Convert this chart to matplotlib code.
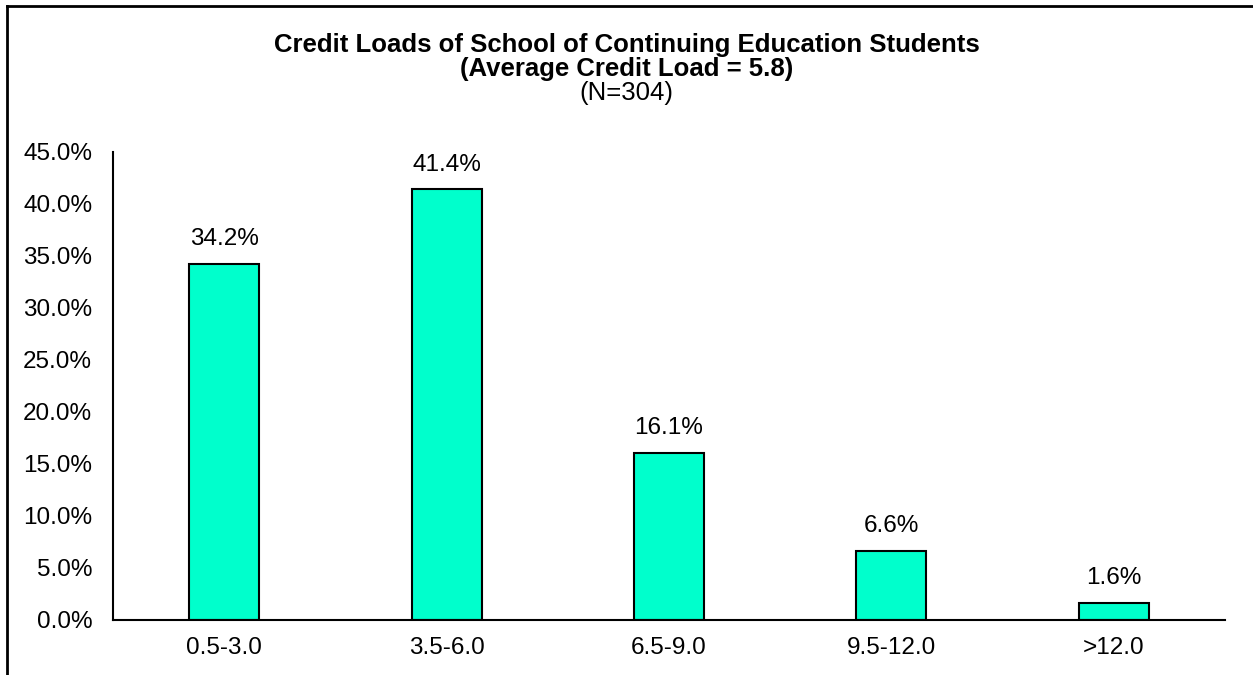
import matplotlib
matplotlib.use('Agg')
import matplotlib.pyplot as plt
from matplotlib.lines import Line2D
from matplotlib.ticker import FuncFormatter

# Data
categories = ['0.5-3.0', '3.5-6.0', '6.5-9.0', '9.5-12.0', '>12.0']
percents = [34.2, 41.4, 16.1, 6.6, 1.6]
y_ticks = [0, 5, 10, 15, 20, 25, 30, 35, 40, 45]

plt.rcParams['font.family'] = ['Liberation Sans', 'DejaVu Sans']

fig = plt.figure(figsize=(12.53, 6.75), dpi=100)
ax = fig.add_axes([113 / 1253, 1 - 620 / 675, 1112 / 1253, 468 / 675])

x = range(len(categories))
ax.bar(x, percents, width=0.315, color='#00FFCC', edgecolor='black', linewidth=1.5)
for xi, v in zip(x, percents):
    ax.annotate(f'{v:.1f}%', (xi, v), xytext=(0, 10), textcoords='offset points',
                ha='center', va='bottom', fontsize=17.5)

ax.set_xlim(-0.5, len(categories) - 0.5)
ax.set_ylim(0, 45)
ax.set_yticks(y_ticks)
ax.yaxis.set_major_formatter(FuncFormatter(lambda v, p: f'{v:.1f}%'))
ax.set_xticks(list(x))
ax.set_xticklabels(categories)
ax.tick_params(length=0, labelsize=17.5, pad=12)
ax.tick_params(axis='y', pad=15)
for side in ['top', 'right']:
    ax.spines[side].set_visible(False)
for side in ['left', 'bottom']:
    ax.spines[side].set_linewidth(1.5)

# title block
fig.text(0.5, 1 - 45 / 675, 'Credit Loads of School of Continuing Education Students',
         ha='center', va='center', fontsize=18.5, fontweight='bold')
fig.text(0.5, 1 - 69 / 675, '(Average Credit Load = 5.8)',
         ha='center', va='center', fontsize=18.5, fontweight='bold')
fig.text(0.5, 1 - 93 / 675, '(N=304)', ha='center', va='center', fontsize=18.5)

# outer frame (only left and top edges visible)
fig.add_artist(Line2D([7 / 1253, 7 / 1253], [0, 1 - 6 / 675], transform=fig.transFigure,
                      color='black', linewidth=2))
fig.add_artist(Line2D([7 / 1253, 1], [1 - 6 / 675, 1 - 6 / 675], transform=fig.transFigure,
                      color='black', linewidth=2))

fig.savefig('out.png', dpi=100)
